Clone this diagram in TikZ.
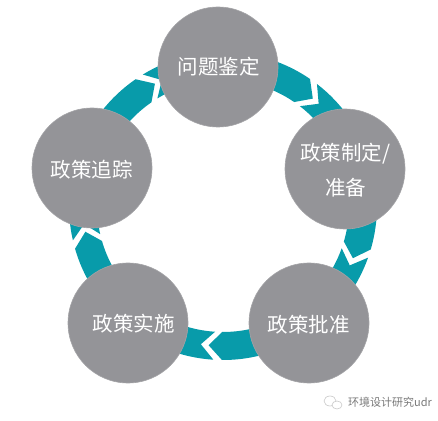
\documentclass[tikz,border=0pt]{standalone}
\usepackage{fontspec}
\setmainfont{Noto Sans CJK SC}
\newfontfamily\cjk{Noto Sans CJK SC}
\definecolor{ringteal}{RGB}{8,155,170}
\definecolor{discgrey}{RGB}{148,148,152}
\definecolor{markgrey}{RGB}{120,120,120}
\begin{document}
\begin{tikzpicture}[x=1pt,y=1pt,
  disc/.style={circle, fill=discgrey, draw=discgrey!85!white, line width=0.6pt, minimum size=120pt, inner sep=0pt},
  lbl/.style={text=white, font=\cjk\fontsize{20.5}{35}\selectfont, align=center, inner sep=0pt},
  band/.style={fill=ringteal},
  wmtext/.style={text=markgrey, font=\cjk\fontsize{11}{13}\selectfont, inner sep=0pt}]
\useasboundingbox (0,0) rectangle (438,420);
\coordinate (c) at (223,214);
\def\Ro{154}\def\Ri{126}\def\Rm{140}\def\hg{1.6}\def\tipd{5.5}
\foreach \a/\b in {123/54,54/-18,-18/-92,-92/-165.5,194.5/123}{
  \fill[band, shift={(c)}] ({\a-\hg}:\Ro) arc[start angle={\a-\hg}, end angle={\b+\hg}, radius=\Ro]
    -- ({\b+\hg-\tipd}:\Rm) -- ({\b+\hg}:\Ri)
    arc[start angle={\b+\hg}, end angle={\a-\hg}, radius=\Ri]
    -- ({\a-\hg-\tipd}:\Rm) -- cycle;
}
\node[disc] (n1) at (218,353) {};
\node[disc] (n2) at (345,251) {};
\node[disc] (n3) at (309,97) {};
\node[disc] (n4) at (128,97) {};
\node[disc] (n5) at (92,252) {};
\node[lbl] (t1) at (218.5,353) {问题鉴定};
\node[lbl] (t2) at (345.5,250) {政策制定/\\准备};
\node[lbl] (t3) at (308.5,95) {政策批准};
\node[lbl] (t4) at (133.5,96) {政策实施};
\node[lbl] (t5) at (91.5,250) {政策追踪};
\draw[gray!45, line width=0.6pt] (330,19) ellipse [x radius=6, y radius=5];
\draw[gray!45, line width=0.6pt, fill=white] (337,15) ellipse [x radius=5, y radius=4];
\node[wmtext, anchor=west] (wm) at (348,18) {环境设计研究udr};
\end{tikzpicture}
\end{document}
